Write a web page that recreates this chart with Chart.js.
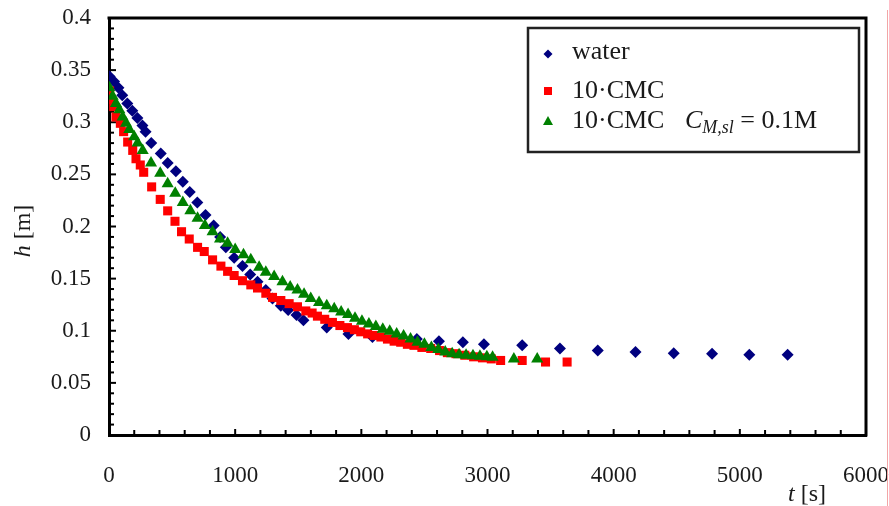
<!DOCTYPE html>
<html>
<head>
<meta charset="utf-8">
<script src="https://cdn.jsdelivr.net/npm/chart.js@4.4.1/dist/chart.umd.min.js"></script>
<style>
  body { margin: 0; background: #fff; }
  #wrap { position: relative; width: 889px; height: 506px; }
  #edge { position: absolute; left: 887px; top: 10px; width: 1px; height: 496px; background: #f2a6a6; }
</style>
</head>
<body>
<div id="wrap">
  <canvas id="drainChart" width="889" height="506"></canvas>
  <div id="edge"></div>
</div>
<script>
// Series: t [s] and h [m]
const waterT = [5, 40, 75, 105, 145, 185, 225, 265, 290, 335, 410, 465, 530, 585, 640, 700, 765, 830, 881, 926, 992, 1058, 1119, 1177, 1243, 1296, 1362, 1420, 1486, 1541, 1726, 1898, 2088, 2440, 2615, 2805, 2972, 3275, 3574, 3874, 4173, 4476, 4780, 5075, 5379];
const waterH = [0.344, 0.339, 0.333, 0.326, 0.318, 0.311, 0.304, 0.297, 0.291, 0.280, 0.270, 0.261, 0.253, 0.243, 0.233, 0.223, 0.211, 0.201, 0.190, 0.180, 0.170, 0.162, 0.154, 0.147, 0.139, 0.131, 0.124, 0.120, 0.115, 0.110, 0.103, 0.097, 0.094, 0.092, 0.090, 0.089, 0.087, 0.086, 0.083, 0.081, 0.0795, 0.0785, 0.078, 0.077, 0.077];

const cmcT = [5, 16, 37, 55, 90, 116, 148, 188, 214, 248, 275, 338, 406, 465, 523, 575, 636, 702, 755, 821, 887, 940, 992, 1058, 1124, 1177, 1243, 1296, 1362, 1428, 1494, 1560, 1610, 1652, 1710, 1771, 1830, 1890, 1945, 1995, 2050, 2101, 2155, 2207, 2260, 2312, 2365, 2417, 2480, 2550, 2620, 2682, 2750, 2820, 2890, 2960, 3030, 3104, 3275, 3460, 3631];
const cmcH = [0.330, 0.322, 0.315, 0.305, 0.299, 0.291, 0.281, 0.273, 0.265, 0.259, 0.252, 0.238, 0.226, 0.215, 0.205, 0.195, 0.188, 0.180, 0.176, 0.168, 0.162, 0.157, 0.153, 0.148, 0.144, 0.141, 0.136, 0.132, 0.129, 0.126, 0.123, 0.119, 0.117, 0.114, 0.111, 0.108, 0.105, 0.103, 0.101, 0.099, 0.097, 0.0955, 0.094, 0.092, 0.090, 0.089, 0.087, 0.086, 0.084, 0.083, 0.081, 0.079, 0.078, 0.0765, 0.075, 0.074, 0.073, 0.0715, 0.0715, 0.070, 0.070];

const saltT = [3, 29, 55, 82, 108, 135, 161, 200, 227, 267, 333, 406, 465, 525, 585, 645, 702, 760, 821, 880, 940, 1000, 1066, 1124, 1190, 1243, 1309, 1375, 1436, 1494, 1546, 1599, 1665, 1726, 1785, 1840, 1895, 1950, 2005, 2060, 2115, 2170, 2225, 2280, 2335, 2390, 2445, 2500, 2555, 2610, 2665, 2720, 2775, 2830, 2885, 2940, 2995, 3040, 3209, 3394];
const saltH = [0.333, 0.325, 0.318, 0.312, 0.305, 0.299, 0.293, 0.286, 0.280, 0.273, 0.261, 0.251, 0.241, 0.232, 0.223, 0.215, 0.208, 0.201, 0.195, 0.188, 0.184, 0.178, 0.173, 0.168, 0.161, 0.156, 0.152, 0.147, 0.142, 0.139, 0.135, 0.131, 0.127, 0.124, 0.121, 0.118, 0.1155, 0.112, 0.109, 0.1065, 0.104, 0.1015, 0.0995, 0.097, 0.095, 0.092, 0.089, 0.087, 0.084, 0.082, 0.0795, 0.078, 0.077, 0.0765, 0.076, 0.0755, 0.075, 0.0745, 0.073, 0.073];

const seriesNames = ['water', '10\u00b7CMC', '10\u00b7CMC'];
const seriesColors = ['#00007f', '#ff0000', '#008000'];

const toPoints = (ts, hs) => ts.map((t, i) => ({ x: t, y: hs[i] }));

const serif = 'Liberation Serif, Times New Roman, serif';
const inkColor = '#1a1a1a';

// minor ticks, frame, axis titles and legend
const figureDecor = {
    id: 'figureDecor',
    beforeDatasetsDraw(chart) {
        const ctx = chart.ctx;
        const xs = chart.scales.x, ys = chart.scales.y;
        const a = chart.chartArea;
        ctx.save();
        ctx.strokeStyle = '#000';
        ctx.lineWidth = 2;
        // x ticks every 200, pointing up
        for (let v = 200; v < 6000; v += 200) {
            const px = xs.getPixelForValue(v);
            const len = v % 1000 === 0 ? 6 : 5;
            ctx.beginPath();
            ctx.moveTo(px, a.bottom);
            ctx.lineTo(px, a.bottom - len);
            ctx.stroke();
        }
        // y ticks every 0.01, pointing right
        for (let k = 1; k < 40; k++) {
            const py = ys.getPixelForValue(k / 100);
            const len = k % 5 === 0 ? 7 : 5;
            ctx.beginPath();
            ctx.moveTo(a.left, py);
            ctx.lineTo(a.left + len, py);
            ctx.stroke();
        }
        // top and right frame
        ctx.lineWidth = 3;
        ctx.beginPath();
        ctx.moveTo(a.left - 1.5, a.top);
        ctx.lineTo(a.right, a.top);
        ctx.lineTo(a.right, a.bottom + 1.5);
        ctx.stroke();
        ctx.restore();
    },
    afterDraw(chart) {
        const ctx = chart.ctx;
        ctx.save();
        ctx.fillStyle = inkColor;
        ctx.textBaseline = 'alphabetic';

        // y title: h [m]
        ctx.save();
        ctx.translate(30, 231);
        ctx.rotate(-Math.PI / 2);
        ctx.font = 'italic 24px ' + serif;
        const wh = ctx.measureText('h').width;
        ctx.font = '24px ' + serif;
        const wm = ctx.measureText(' [m]').width;
        let sx = -(wh + wm) / 2;
        ctx.font = 'italic 24px ' + serif;
        ctx.fillText('h', sx, 0);
        ctx.font = '24px ' + serif;
        ctx.fillText(' [m]', sx + wh, 0);
        ctx.restore();

        // x title: t [s]
        ctx.font = 'italic 24px ' + serif;
        ctx.fillText('t', 788, 501);
        const wt = ctx.measureText('t').width;
        ctx.font = '24px ' + serif;
        ctx.fillText(' [s]', 788 + wt, 501);

        // legend box
        const bx = 528, by = 28, bw = 331, bh = 124;
        ctx.fillStyle = '#fff';
        ctx.fillRect(bx, by, bw, bh);
        ctx.strokeStyle = '#222';
        ctx.lineWidth = 2.5;
        ctx.strokeRect(bx, by, bw, bh);

        const rows = [54, 91, 121];
        const mx = 548;
        // diamond
        ctx.fillStyle = seriesColors[0];
        ctx.beginPath();
        ctx.moveTo(mx, rows[0] - 4.5);
        ctx.lineTo(mx + 4.5, rows[0]);
        ctx.lineTo(mx, rows[0] + 4.5);
        ctx.lineTo(mx - 4.5, rows[0]);
        ctx.closePath();
        ctx.fill();
        // square
        ctx.fillStyle = seriesColors[1];
        ctx.fillRect(mx - 4, rows[1] - 4, 8, 8);
        // triangle
        ctx.fillStyle = seriesColors[2];
        ctx.beginPath();
        ctx.moveTo(mx, rows[2] - 5);
        ctx.lineTo(mx + 5, rows[2] + 4);
        ctx.lineTo(mx - 5, rows[2] + 4);
        ctx.closePath();
        ctx.fill();

        ctx.fillStyle = inkColor;
        ctx.font = '26px ' + serif;
        ctx.textBaseline = 'middle';
        ctx.fillText(seriesNames[0], 572, rows[0] - 2);
        ctx.fillText(seriesNames[1], 572, rows[1]);
        ctx.fillText(seriesNames[2], 572, rows[2]);
        // C_{M,sl} = 0.1M
        ctx.font = 'italic 26px ' + serif;
        ctx.fillText('C', 685, rows[2]);
        const wc = ctx.measureText('C').width;
        ctx.font = 'italic 18px ' + serif;
        ctx.fillText('M,sl', 685 + wc, rows[2] + 7);
        const ws = ctx.measureText('M,sl').width;
        ctx.font = '26px ' + serif;
        ctx.fillText(' = 0.1M', 685 + wc + ws, rows[2]);
        ctx.restore();
    }
};

const drainData = {
    datasets: [{
        label: seriesNames[0],
        data: toPoints(waterT, waterH),
        pointStyle: 'rectRot',
        pointRadius: 6,
        backgroundColor: seriesColors[0],
        borderColor: seriesColors[0],
        borderWidth: 0,
        order: 3
    }, {
        label: seriesNames[1],
        data: toPoints(cmcT, cmcH),
        pointStyle: 'rect',
        pointRadius: 6.4,
        backgroundColor: seriesColors[1],
        borderColor: seriesColors[1],
        borderWidth: 0,
        order: 2
    }, {
        label: seriesNames[2] + ' CM,sl = 0.1M',
        data: toPoints(saltT, saltH),
        pointStyle: 'triangle',
        pointRadius: 7,
        backgroundColor: seriesColors[2],
        borderColor: seriesColors[2],
        borderWidth: 0,
        order: 1
    }]
};

const drainConfig = {
    type: 'scatter',
    data: drainData,
    options: {
        responsive: false,
        animation: false,
        layout: { padding: { top: 18, right: 23, left: 0, bottom: 0 } },
        plugins: {
            legend: { display: false },
            tooltip: { enabled: false }
        },
        scales: {
            x: {
                type: 'linear',
                min: 0,
                max: 6000,
                afterFit(scale) {
                    scale.height = 71;
                    scale.paddingLeft = 0;
                    scale.paddingRight = 0;
                },
                ticks: {
                    stepSize: 1000,
                    maxRotation: 0,
                    padding: 27,
                    color: inkColor,
                    font: { family: serif, size: 23 },
                    callback: (v) => String(v)
                },
                grid: { drawOnChartArea: false, drawTicks: false },
                border: { color: '#000', width: 3 }
            },
            y: {
                type: 'linear',
                min: 0,
                max: 0.4,
                afterFit(scale) {
                    scale.width = 109;
                    scale.paddingTop = 0;
                    scale.paddingBottom = 0;
                },
                ticks: {
                    stepSize: 0.05,
                    padding: 18,
                    color: inkColor,
                    font: { family: serif, size: 23 },
                    callback: (v) => String(Math.round(v * 100) / 100)
                },
                grid: { drawOnChartArea: false, drawTicks: false },
                border: { color: '#000', width: 3 }
            }
        }
    },
    plugins: [figureDecor]
};

const drainChart = new Chart(
    document.getElementById('drainChart'),
    drainConfig
);
</script>
</body>
</html>
